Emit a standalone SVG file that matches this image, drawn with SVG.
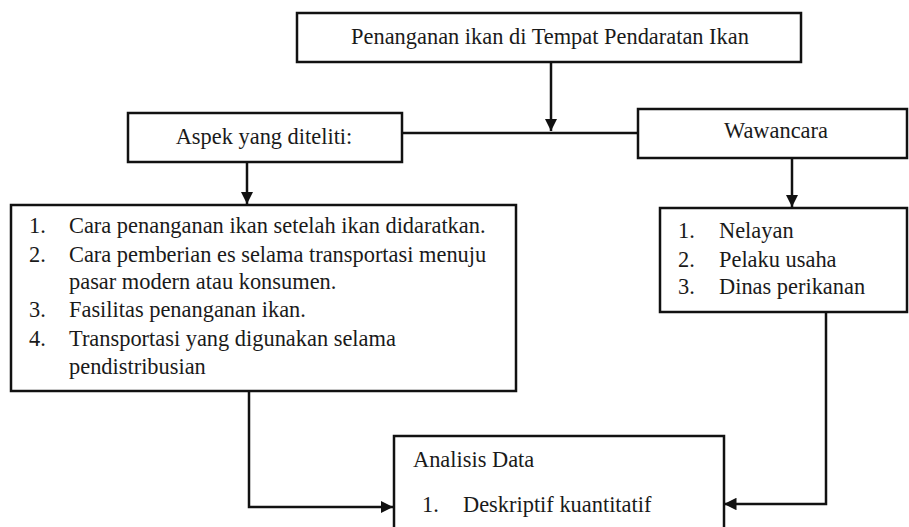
<svg xmlns="http://www.w3.org/2000/svg" width="909" height="527" viewBox="0 0 909 527">
<style>
.box{fill:#fff;stroke:#111;stroke-width:2.5}
.ln{fill:none;stroke:#111;stroke-width:2.5}
text{font-family:'Liberation Serif','Times New Roman',serif;font-size:22.4px;fill:#1a1a1a}
.c{text-anchor:middle}
</style>
<defs>
<marker id="ah" viewBox="0 0 10 10" refX="10" refY="5" markerWidth="5" markerHeight="5" orient="auto" markerUnits="strokeWidth">
<path d="M0,0 L10,5 L0,10 Z" fill="#111"/>
</marker>
</defs>
<rect width="909" height="527" fill="#fff"/>
<g id="connectors">
<line class="ln" x1="551" y1="62" x2="551" y2="131" marker-end="url(#ah)"/>
<line class="ln" x1="402" y1="133" x2="638" y2="133"/>
<line class="ln" x1="247" y1="162" x2="247" y2="204" marker-end="url(#ah)"/>
<line class="ln" x1="792" y1="158" x2="792" y2="207" marker-end="url(#ah)"/>
<polyline class="ln" points="249,391 249,507 393,507" marker-end="url(#ah)"/>
<polyline class="ln" points="826,312 826,504 724,504" marker-end="url(#ah)"/>
</g>
<g id="top">
<rect class="box" x="297" y="13" width="504" height="49"/>
<text class="c" x="550" y="44">Penanganan ikan di Tempat Pendaratan Ikan</text>
</g>
<g id="aspek">
<rect class="box" x="128" y="113" width="274" height="49"/>
<text class="c" x="264" y="144">Aspek yang diteliti:</text>
</g>
<g id="wawancara">
<rect class="box" x="638" y="109" width="269" height="49"/>
<text class="c" x="776" y="138">Wawancara</text>
</g>
<g id="aspek-list">
<rect class="box" x="11" y="205" width="505" height="186"/>
<text x="29" y="233">1.</text><text x="69" y="233">Cara penanganan ikan setelah ikan didaratkan.</text>
<text x="29" y="262">2.</text><text x="69" y="262">Cara pemberian es selama transportasi menuju</text>
<text x="69" y="289">pasar modern atau konsumen.</text>
<text x="29" y="317">3.</text><text x="69" y="317">Fasilitas penanganan ikan.</text>
<text x="29" y="346">4.</text><text x="69" y="346">Transportasi yang digunakan selama</text>
<text x="69" y="374">pendistribusian</text>
</g>
<g id="wawancara-list">
<rect class="box" x="660" y="208" width="247" height="104"/>
<text x="678" y="238">1.</text><text x="719" y="238">Nelayan</text>
<text x="678" y="267">2.</text><text x="719" y="267">Pelaku usaha</text>
<text x="678" y="294">3.</text><text x="719" y="294">Dinas perikanan</text>
</g>
<g id="analisis">
<rect class="box" x="394" y="436" width="330" height="100"/>
<text x="413" y="467">Analisis Data</text>
<text x="422" y="512">1.</text><text x="463" y="512">Deskriptif kuantitatif</text>
</g>
</svg>
